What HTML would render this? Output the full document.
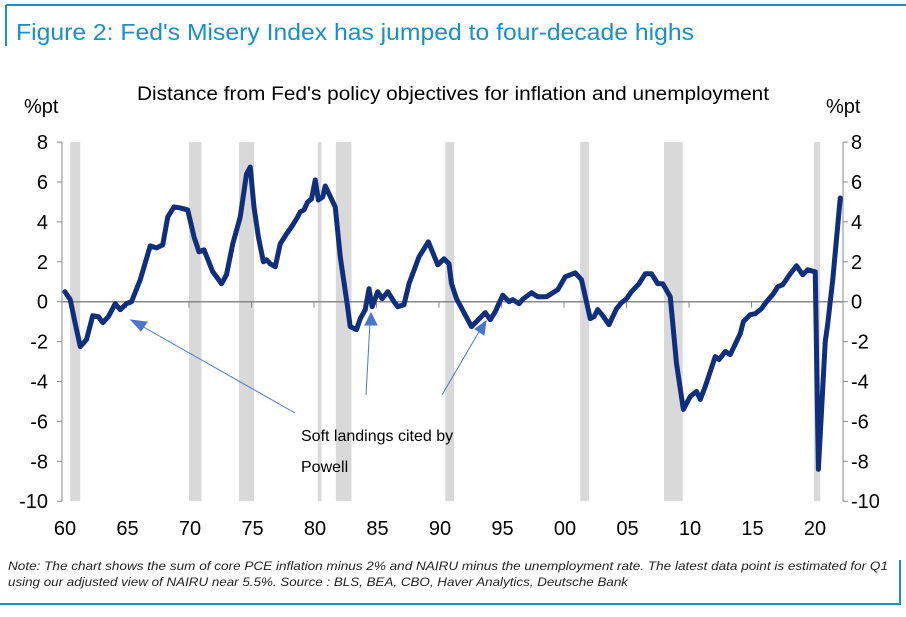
<!DOCTYPE html>
<html><head><meta charset="utf-8"><style>
body{margin:0;background:#fff;width:906px;height:612px;overflow:hidden;font-family:"Liberation Sans",sans-serif}
</style></head><body>
<svg width="906" height="612" xmlns="http://www.w3.org/2000/svg">
<line x1="6" y1="5" x2="906" y2="5" stroke="#1a8fc8" stroke-width="2"/>
<line x1="6" y1="5" x2="6" y2="46" stroke="#1a8fc8" stroke-width="2"/>
<text x="16" y="40" font-size="23" fill="#1a8fc8" textLength="678" lengthAdjust="spacingAndGlyphs">Figure 2: Fed's Misery Index has jumped to four-decade highs</text>
<text x="137" y="100" font-size="19" fill="#000" textLength="632" lengthAdjust="spacingAndGlyphs">Distance from Fed's policy objectives for inflation and unemployment</text>
<text x="24" y="113" font-size="20" fill="#000">%pt</text>
<text x="826" y="113" font-size="20" fill="#000">%pt</text>
<g id="bands"></g>
<g id="axes"></g>
<g id="series"></g>
<g>
<text x="301" y="441" font-size="16">Soft landings cited by</text>
<text x="301" y="472" font-size="16">Powell</text>
<g stroke="#4a76c8" stroke-width="1" fill="#4a76c8">
<line x1="295" y1="413" x2="140" y2="325"/>
<polygon points="131,320 147,322 141,331"/>
<line x1="366" y1="395" x2="370" y2="322"/>
<polygon points="371,313 365,325 377,325"/>
<line x1="442" y1="395" x2="480" y2="330"/>
<polygon points="486,321 475,329 484,335"/>
</g></g>
<text x="8" y="570" font-size="12" font-style="italic" fill="#222" textLength="880" lengthAdjust="spacingAndGlyphs">Note: The chart shows the sum of core PCE inflation minus 2% and NAIRU minus the unemployment rate. The latest data point is estimated for Q1</text>
<text x="8" y="586" font-size="12" font-style="italic" fill="#222" textLength="620" lengthAdjust="spacingAndGlyphs">using our adjusted view of NAIRU near 5.5%. Source : BLS, BEA, CBO, Haver Analytics, Deutsche Bank</text>
<line x1="0" y1="604" x2="901" y2="604" stroke="#1a8fc8" stroke-width="2"/>
<line x1="900" y1="560" x2="900" y2="604" stroke="#1a8fc8" stroke-width="2"/>
</svg>
<script>
const years=[1960.08,1960.5,1960.9,1961.3,1961.8,1962.3,1962.75,1963.1,1963.55,1964.1,1964.5,1965.0,1965.4,1966.1,1966.9,1967.4,1967.9,1968.3,1968.8,1969.3,1969.9,1970.4,1970.8,1971.2,1971.9,1972.2,1972.6,1973.0,1973.5,1974.1,1974.6,1974.9,1975.2,1975.55,1975.95,1976.2,1976.5,1976.9,1977.3,1977.8,1978.2,1978.6,1978.9,1979.2,1979.5,1979.8,1980.1,1980.35,1980.7,1980.9,1981.7,1982.1,1982.65,1982.9,1983.4,1983.7,1984.1,1984.4,1984.65,1985.1,1985.45,1985.9,1986.4,1986.7,1987.2,1987.6,1988.4,1989.15,1989.9,1990.4,1990.8,1991.0,1991.4,1992.6,1993.7,1994.1,1994.5,1995.1,1995.6,1995.9,1996.4,1996.75,1997.4,1997.9,1998.6,1999.5,2000.1,2000.9,2001.4,2002.1,2002.4,2002.7,2003.1,2003.6,2004.2,2004.6,2005.0,2005.4,2006.0,2006.5,2007.0,2007.5,2007.9,2008.5,2009.0,2009.55,2010.1,2010.6,2010.9,2011.3,2012.1,2012.4,2012.9,2013.3,2014.1,2014.35,2014.9,2015.3,2015.8,2016.2,2016.75,2017.1,2017.5,2018.1,2018.6,2019.1,2019.5,2020.1,2020.35,2020.9,2021.1,2021.5,2022.1];
const values=[0.5,0.1,-1.1,-2.25,-1.9,-0.7,-0.75,-1.05,-0.75,-0.1,-0.4,-0.1,0,1.1,2.8,2.7,2.85,4.25,4.75,4.7,4.6,3.25,2.5,2.6,1.5,1.25,0.9,1.35,2.9,4.25,6.4,6.75,4.75,3.25,2.0,2.1,1.9,1.75,2.9,3.4,3.75,4.15,4.5,4.6,5.0,5.15,6.1,5.1,5.25,5.8,4.75,2.25,-0.1,-1.25,-1.4,-0.85,-0.4,0.65,-0.25,0.5,0.15,0.5,0,-0.25,-0.15,0.9,2.25,3.0,1.85,2.15,1.9,0.9,0.15,-1.25,-0.55,-0.9,-0.5,0.33,0,0.1,-0.1,0.15,0.45,0.25,0.25,0.6,1.25,1.45,1.1,-0.85,-0.75,-0.4,-0.7,-1.15,-0.35,-0.05,0.15,0.5,0.9,1.4,1.4,0.9,0.9,0.25,-3.1,-5.4,-4.75,-4.5,-4.9,-4.25,-2.75,-2.9,-2.5,-2.65,-1.6,-1.0,-0.65,-0.6,-0.35,0,0.4,0.75,0.85,1.4,1.8,1.35,1.6,1.5,-8.4,-2.0,-1.1,1.1,5.2];
const recessionStarts=[1960.5,1970.0,1974.0,1980.3,1981.75,1990.5,2001.3,2008.0,2020.0];
const recessionEnds=[1961.3,1971.0,1975.2,1980.6,1983.0,1991.2,2002.0,2009.5,2020.5];
const yTicks=[8,6,4,2,0,-2,-4,-6,-8,-10];
const xTickYears=[1960,1965,1970,1975,1980,1985,1990,1995,2000,2005,2010,2015,2020];
const xTickLabels=["60","65","70","75","80","85","90","95","00","05","10","15","20"];
const NS="http://www.w3.org/2000/svg";
const X=y=>64+12.5*(y-1960);
const Y=v=>301.7-19.95*v;
const L=62,R=843;
function mk(t,a,p){const e=document.createElementNS(NS,t);for(const k in a)e.setAttribute(k,a[k]);p.appendChild(e);return e;}
const bands=document.getElementById('bands');
recessionStarts.forEach((s,i)=>{
 const r=mk('rect',{x:X(s),y:Y(8),width:X(recessionEnds[i])-X(s),height:Y(-10)-Y(8),fill:'#d9d9d9'},bands);
 
 
});
const ax=document.getElementById('axes');
let e=mk('line',{x1:L,y1:Y(8),x2:L,y2:Y(-10),stroke:'#888'},ax);


e=mk('line',{x1:R,y1:Y(8),x2:R,y2:Y(-10),stroke:'#888'},ax);


e=mk('line',{x1:L,y1:Y(0),x2:R,y2:Y(0),stroke:'#888','stroke-width':1.5},ax);


yTicks.forEach(v=>{
 mk('line',{x1:L-5,y1:Y(v),x2:L,y2:Y(v),stroke:'#888'},ax);
 mk('line',{x1:R,y1:Y(v),x2:R+5,y2:Y(v),stroke:'#888'},ax);
 let t=mk('text',{x:L-14,y:Y(v)+7,'font-size':20,'text-anchor':'end'},ax);t.textContent=v;
 
 
 t=mk('text',{x:R+8,y:Y(v)+7,'font-size':20},ax);t.textContent=v;
 
 
});
xTickYears.forEach((yr,i)=>{
 if(i>0)mk('line',{x1:X(yr),y1:Y(0),x2:X(yr),y2:Y(0)+6,stroke:'#888'},ax);
 const t=mk('text',{x:X(yr)+1,y:535,'font-size':20,'text-anchor':'middle'},ax);t.textContent=xTickLabels[i];
 
 
});
const p=mk('polyline',{points:years.map((y,i)=>X(y)+','+Y(values[i])).join(' '),fill:'none',stroke:'#0f2f7c','stroke-width':5,'stroke-linejoin':'round','stroke-linecap':'round'},document.getElementById('series'));


</script>
</body></html>
